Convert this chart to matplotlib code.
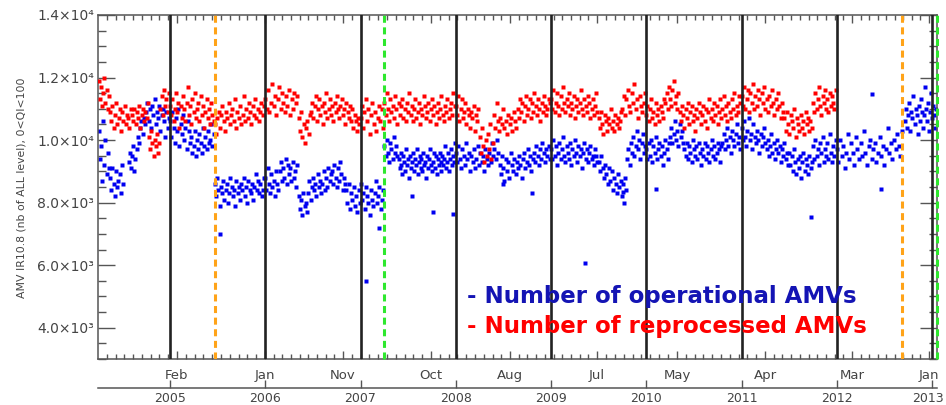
import matplotlib
matplotlib.use("Agg")
import matplotlib.pyplot as plt
import matplotlib.transforms as mtransforms
import numpy as np

# time axis is in decimal "years" of the lower axis; values are in hundreds of AMVs
blue_spans = [
    (2004.25, 2004.37), (2004.37, 2004.52), (2004.57, 2004.66), (2004.66, 2004.75),
    (2004.75, 2005.00), (2005.00, 2005.47), (2005.47, 2006.00), (2006.00, 2006.15),
    (2006.15, 2006.35), (2006.35, 2006.45), (2006.45, 2006.70), (2006.70, 2006.85),
    (2006.85, 2007.25), (2007.25, 2007.40), (2007.40, 2008.00), (2008.00, 2008.46),
    (2008.46, 2009.00), (2009.00, 2009.50), (2009.50, 2009.80), (2009.80, 2010.00),
    (2010.00, 2010.25), (2010.25, 2010.40), (2010.40, 2010.80), (2010.80, 2011.00),
    (2011.00, 2011.50), (2011.50, 2011.75), (2011.75, 2012.00), (2012.00, 2012.70),
    (2012.72, 2013.05),
]
blue_vals = [
    "103 94 98 87 106 92 100 89 96 91",
    "88 84 91 86 82 90 85 87 89 83 92 86",
    "93 96 91 95 98 90 94 97",
    "101 99 104 106 102 107 105",
    "109 112 106 110 104 111 108 113 105 109 107 111 103 108 110 106 101 109 104 107",
    "106 101 109 104 99 107 103 110 98 105 102 108 100 104 97 106 103 99 101 96 "
    "98 103 95 100 97 102 99 96 104 98 101 97 103 99 100 105 98 102",
    "86 82 88 84 79 85 83 87 81 84 86 80 83 88 85 82 84 79 87 83 85 81 86 84 88 "
    "82 85 80 87 84 83 86 81 85 89 84 87 83 86 82 84 88",
    "88 84 91 86 83 89 85 87 82 90 86 84",
    "90 93 87 91 88 94 86 92 89 91 87 93 88 90 85 92",
    "82 78 81 76 83 79 80 77",
    "83 87 81 85 88 84 86 82 89 85 87 83 86 90 84 88 85 91 87 89",
    "90 86 92 88 85 91 87 93 89 84 88 86",
    "84 80 86 78 83 81 85 79 82 77 84 80 86 81 83 78 85 82 80 76 84 81 79 83 87 "
    "80 82 85 78 81 84",
    "98 95 100 96 93 99 97 94 101 96 98 95",
    "94 91 96 92 89 95 93 90 97 92 94 88 95 91 93 96 90 94 92 97 89 93 95 91 94 "
    "90 96 92 93 88 95 91 94 97 92 90 93 96 91 95 89 94 92 96 93 90 95 92 94 98 "
    "91 93 96 90 94 97 92 95 93 99",
    "96 93 98 94 91 97 95 92 99 94 96 90 95 93 97 91 94 98 92 96 93 95 90 97 94 "
    "92 96 93 99 95 97 94 100 96",
    "92 89 95 91 87 94 90 93 88 96 92 90 94 89 93 91 95 92 88 94 96 91 93 97 92 "
    "95 90 94 96 93 98 95 92 97 94 99 96 93 97 95 98 94",
    "97 94 100 95 98 92 96 99 94 97 101 95 93 98 96 94 99 92 97 95 100 96 93 98 "
    "95 97 91 96 99 94 97 93 96 98 94 95 92 97 95 93",
    "93 90 95 91 88 92 89 86 91 87 90 84 88 86 83 89 85 87 82 86 88 84",
    "94 97 92 99 96 101 95 98 103 97 100 94 99 102 96 98",
    "97 94 99 95 100 93 98 96 101 94 97 99 95 98 92 96 100 97 94 99",
    "101 104 99 102 106 100 103 98 105 101 103 99",
    "97 95 99 94 98 96 93 100 97 95 98 94 99 96 92 97 95 99 94 98 96 93 97 100 "
    "95 98 94 96 99 97 93 98",
    "99 102 97 100 104 98 101 96 103 100 98 102 105 99 101 97",
    "104 100 106 101 98 103 107 100 102 97 105 101 99 103 100 96 102 98 101 104 "
    "99 97 100 95 98 102 96 99 94 97 100 96 98 93 97 95 99 94 96 92",
    "96 92 95 90 97 93 89 94 91 95 88 93 96 90 94 92 89 95 91 93",
    "98 94 100 95 97 92 99 96 101 93 97 95 99 94 102 96 93 98 95 100",
    "97 93 100 95 98 91 96 102 94 99 96 92 101 97 94 99 95 103 96 92 98 100 94 "
    "97 99 93 96 101 95 98 92 97 104 96 99 94 100 97 102 98 95 103",
    "106 110 104 108 112 103 109 107 114 105 110 108 102 111 106 113 109 104 108 "
    "117 110 106 112 103 109 115 107 111 108 104 110",
]
# isolated operational points away from the main cloud
blue_stray_t = [2005.52, 2007.06, 2007.19, 2007.54, 2007.76, 2007.97, 2008.50,
                2008.80, 2009.36, 2009.76, 2009.77, 2010.10, 2011.73, 2012.37, 2012.46]
blue_stray_v = [70, 55, 72, 82, 77, 76.5, 86, 83, 60.6, 83.5, 80, 84.5, 75.5, 114.6, 84.4]

red_spans = [
    (2004.25, 2004.37), (2004.37, 2004.60), (2004.60, 2004.78), (2004.78, 2004.90),
    (2004.90, 2005.00), (2005.00, 2005.47), (2005.47, 2006.00), (2006.00, 2006.35),
    (2006.35, 2006.48), (2006.48, 2007.00), (2007.00, 2007.25), (2007.25, 2008.00),
    (2008.00, 2008.25), (2008.25, 2008.40), (2008.40, 2008.65), (2008.65, 2009.00),
    (2009.00, 2009.50), (2009.50, 2009.75), (2009.75, 2010.00), (2010.00, 2010.20),
    (2010.20, 2010.35), (2010.35, 2011.00), (2011.00, 2011.45), (2011.45, 2011.75),
    (2011.75, 2012.00),
]
red_vals = [
    "119 113 117 111 115 120 112 116 110 114",
    "109 106 111 104 108 112 105 107 110 103 109 106 111 105 108 107 104 110",
    "108 106 110 105 109 107 111 104 108 110 106 109 107 112",
    "101 97 103 99 95 100 98 102 96 99",
    "110 114 108 116 111 113 109 115",
    "111 108 113 106 110 115 109 112 104 111 107 114 110 106 112 117 108 111 105 "
    "113 109 115 107 110 112 106 114 108 111 104 109 113 107 110 105 112 108 106",
    "105 102 107 109 104 108 111 106 103 109 107 112 105 108 110 106 113 104 109 "
    "107 111 105 108 114 106 110 107 112 109 105 111 108 113 107 110 106 109 112 "
    "108 111",
    "113 110 116 109 112 118 111 114 108 113 117 110 115 112 109 114 111 116 108 "
    "113 110 115 112 114",
    "107 103 109 101 105 99 104 106 102 108",
    "109 112 107 111 114 106 110 113 108 111 105 112 109 115 107 110 113 108 111 "
    "106 112 109 114 110 107 111 113 108 110 105 112 109 107 111 106 110 104 108 "
    "106 103 107 105",
    "107 111 104 109 113 106 110 102 108 112 105 109 103 107 111 106 110 104",
    "112 108 115 110 106 113 109 111 107 114 110 105 112 108 111 113 107 110 106 "
    "112 109 115 108 111 106 110 113 107 109 112 105 110 108 114 111 107 109 112 "
    "106 110 113 108 111 105 109 112 107 110 114 108 106 111 109 113 107 110 112 "
    "108 115 111",
    "111 108 114 106 110 113 107 109 112 105 110 108 104 109 107 111 103 108 106 110",
    "101 96 104 98 93 100 95 102 97 105 94 99",
    "108 104 112 106 103 107 105 110 104 106 102 108 105 107 103 109 106 104",
    "110 107 113 109 112 106 111 114 108 110 113 107 112 109 115 111 108 113 110 "
    "106 112 109 114 111 108 110 113 112",
    "113 110 116 109 112 115 111 108 114 110 117 112 109 113 111 115 108 112 110 "
    "114 107 111 113 109 112 116 110 108 113 111 109 114 112 107 110 113 108 111 "
    "115 109",
    "107 104 109 105 102 108 106 103 107 105 110 104 106 103 108 105 107 104 106 109",
    "110 114 108 113 116 111 109 115 112 118 110 113 107 114 111 109 112 115",
    "108 111 106 110 113 107 109 105 112 108 110 106 111 109 107 113",
    "112 115 110 117 113 111 116 119 112 114 110 115",
    "109 106 111 108 104 110 107 112 105 109 111 106 108 103 110 107 112 109 105 "
    "108 111 106 110 104 109 113 107 110 106 112 108 111 105 109 113 107 110 114 "
    "108 111 106 112 109 107 113 110 115 108 111 109 114 112",
    "114 111 117 110 113 116 109 115 112 118 110 114 111 116 113 108 115 112 117 "
    "110 113 109 114 111 116 112 108 113 110 115 111 107 112 109",
    "107 103 109 105 102 108 106 104 110 101 107 105 103 108 104 106 102 109 105 "
    "107 103 106 104",
    "112 109 115 110 113 117 111 108 114 112 116 110 113 109 115 111 114 112 110 116",
]

years = [2005, 2006, 2007, 2008, 2009, 2010, 2011, 2012, 2013]
month_pos = [2005.073, 2005.997, 2006.816, 2007.740, 2008.570, 2009.483,
             2010.323, 2011.247, 2012.160, 2012.968]
month_labels = ["Feb", "Jan", "Nov", "Oct", "Aug", "Jul", "May", "Apr", "Mar", "Jan"]
orange_lines = [2005.472, 2012.685]
green_lines = [2007.247, 2013.05]
ytick_vals = [4000, 6000, 8000, 10000, 12000, 14000]
ytick_labels = ["4.0×10³", "6.0×10³", "8.0×10³", "1.0×10⁴", "1.2×10⁴", "1.4×10⁴"]


def expand(spans, vals):
    xs, ys = [], []
    for (a, b), s in zip(spans, vals):
        v = np.array(s.split(), dtype=float) * 100
        xs.append(np.linspace(a, b, len(v), endpoint=False))
        ys.append(v)
    return np.concatenate(xs), np.concatenate(ys)


bx, by = expand(blue_spans, blue_vals)
rx, ry = expand(red_spans, red_vals)

fig = plt.figure(figsize=(9.46, 4.05), dpi=100)
ax = fig.add_axes([98 / 946, 46 / 405, 839 / 946, 344 / 405])

ax.plot(bx, by, "s", color="#0000f0", ms=2.7, mec="none", zorder=2)
ax.plot(blue_stray_t, np.array(blue_stray_v) * 100, "s", color="#0000f0",
        ms=2.7, mec="none", zorder=2)
ax.plot(rx, ry, "s", color="#ff0000", ms=2.7, mec="none", zorder=3)

for yr in years:
    ax.axvline(yr, color="#222222", lw=1.9, zorder=4)
for xo in orange_lines:
    ax.axvline(xo, color="#ffa318", lw=2.2, ls=(0, (2.3, 1.5)), zorder=5)
for xg in green_lines:
    ax.axvline(xg, color="#2ee82e", lw=2.2, ls=(0, (2.3, 1.5)), zorder=5,
               clip_on=False)

ax.set_xlim(2004.244, 2013.052)
ax.set_ylim(3000, 14000)

ax.set_yticks(ytick_vals, ytick_labels)
ax.set_yticks(np.arange(3000, 14001, 500), minor=True)
ax.tick_params(axis="y", which="major", direction="in", length=12, width=1,
               right=True, labelsize=10, labelcolor="#444444", pad=3, color="#555555")
ax.tick_params(axis="y", which="minor", direction="in", length=6, width=1,
               right=True, color="#555555")

# minor x ticks: about 9 px apart between the labelled ticks
minor = []
edges = [2004.244] + month_pos + [2013.052]
for a, b in zip(edges[:-1], edges[1:]):
    n = max(1, int(round((b - a) * 95.25 / 9.0)))
    minor.extend(np.linspace(a, b, n, endpoint=False)[1:])
ax.set_xticks(month_pos, month_labels)
ax.set_xticks(minor, minor=True)
ax.tick_params(axis="x", which="major", direction="in", length=6, width=1,
               top=True, labelsize=9.5, labelcolor="#444444", pad=7, color="#555555")
ax.tick_params(axis="x", which="minor", direction="in", length=3.5, width=1,
               top=True, color="#555555")

for sp in ax.spines.values():
    sp.set_color("#555555")
    sp.set_linewidth(1.1)

# second (year) axis below the month labels
sec = ax.secondary_xaxis(-29 / 344)
sec.set_xticks(years, [""] * len(years))
sec.tick_params(direction="in", length=6, width=1, color="#555555")
sec.spines["bottom"].set_color("#555555")
sec.spines["bottom"].set_linewidth(1.1)

trans = mtransforms.blended_transform_factory(ax.transData, fig.transFigure)
for yr in years:
    xpos = yr if yr < 2013 else yr - 0.04
    ax.text(xpos, 1 - 398 / 405, str(yr), transform=trans, ha="center",
            va="center", fontsize=9, color="#444444", clip_on=False)

fig.text(22 / 946, 1 - 187.5 / 405, "AMV IR10.8 (nb of ALL level), 0<QI<100",
         rotation=90, ha="center", va="center", fontsize=7.8, color="#444444")

fig.text(467 / 946, 1 - 297 / 405, "- Number of operational AMVs",
         color="#1414b4", fontsize=16.5, fontweight="bold", va="center", ha="left")
fig.text(467 / 946, 1 - 326 / 405, "- Number of reprocessed AMVs",
         color="#ff0000", fontsize=16.5, fontweight="bold", va="center", ha="left")

fig.savefig("out.png", dpi=100)
